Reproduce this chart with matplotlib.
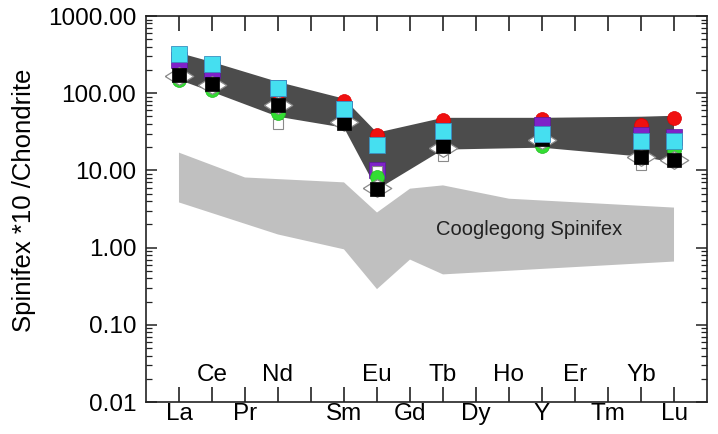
import numpy as np
import matplotlib.pyplot as plt
from matplotlib.ticker import LogLocator, NullFormatter, FixedLocator
import matplotlib.transforms as mtransforms

plt.rcParams['font.family'] = ['Liberation Sans', 'DejaVu Sans']

# REE order on the x axis ('' = Pm, not labelled)
elements = ['La', 'Ce', 'Pr', 'Nd', '', 'Sm', 'Eu', 'Gd', 'Tb', 'Dy',
            'Ho', 'Y', 'Er', 'Tm', 'Yb', 'Lu']
labels_above = ['Ce', 'Nd', 'Eu', 'Tb', 'Ho', 'Er', 'Yb']

# analysed elements and the sample values (Spinifex*10 / chondrite)
sample_el = ['La', 'Ce', 'Nd', 'Sm', 'Eu', 'Tb', 'Y', 'Yb', 'Lu']
red = [310, 230, 104, 80, 29, 45, 46.7, 39, 48]
purple = [270, 201, 117, 62, 10.2, 32.7, 39, 29, 27.3]
white_sq = [165, 125, 40, 42, 9.7, 15.5, 25, 11.9, 13.8]
green = [149, 111, 56, 48, 8.1, 25.8, 20.6, 16, 18.6]
diamond = [168, 128, 71, 42.7, 6.0, 19.7, 25, 15.1, 13.8]
black = [170, 130, 71, 41.5, 5.8, 20.6, 25.3, 15.1, 13.8]
cyan = [318, 236, 117, 62, 21.5, 32.7, 29.9, 24.3, 24.3]

# envelope of the samples
band_hi = [333, 254, 140, 85, 30.8, 48, 48, 49.6, 51]
band_lo = [149, 104, 49.6, 35.7, 5.65, 18.6, 19.7, 15.1, 12.6]

# Cooglegong spinifex field
coog_hi_el = ['La', 'Pr', 'Sm', 'Eu', 'Gd', 'Tb', 'Ho', 'Lu']
coog_hi = [17.0, 8.1, 7.0, 2.85, 5.8, 6.4, 4.3, 3.3]
coog_lo_el = ['La', 'Nd', 'Sm', 'Eu', 'Gd', 'Tb', 'Lu']
coog_lo = [3.85, 1.48, 0.95, 0.29, 0.70, 0.45, 0.66]

pos = {e: i + 1 for i, e in enumerate(elements)}
xs = np.array([pos[e] for e in sample_el])

fig = plt.figure(figsize=(7.18, 4.34), dpi=100)
ax = fig.add_axes([0.2033, 0.0737, 0.7814, 0.8894])
ax.set_yscale('log')
ax.set_xlim(0, 17)
ax.set_ylim(0.01, 1000)

# light grey field
cx = [pos[e] for e in coog_hi_el] + [pos[e] for e in coog_lo_el][::-1]
cy = coog_hi + coog_lo[::-1]
ax.fill(cx, cy, color='#c0c0c0', lw=0, zorder=1)
ax.text(11.6, 1.72, 'Cooglegong Spinifex', fontsize=14.5, ha='center',
        va='center', color='#222222', zorder=2)

# dark envelope
ax.fill(np.concatenate([xs, xs[::-1]]), band_hi + band_lo[::-1],
        color='#4c4c4c', lw=0, zorder=2)

wide_diamond = [(-1, 0), (0, 0.62), (1, 0), (0, -0.62), (-1, 0)]

ax.plot(xs, red, 'o', ms=10, mfc='#f01010', mec='#e00000', mew=0.5, ls='none', zorder=3)
ax.plot(xs, purple, 's', ms=11, mfc='#7f22c8', mec='#5a1a9a', mew=0.5, ls='none', zorder=4)
ax.plot(xs, white_sq, 's', ms=6.5, mfc='white', mec='#8a8a8a', mew=0.8, ls='none', zorder=5)
ax.plot(xs, green, 'o', ms=10, mfc='#33dd33', mec='#22bb22', mew=0.5, ls='none', zorder=6)
ax.plot(xs, diamond, marker=wide_diamond, ms=20.5, mfc='white', mec='#8a8a8a', mew=0.9,
        ls='none', zorder=7)
ax.plot(xs, black, 's', ms=10.5, mfc='black', mec='black', mew=0.5, ls='none', zorder=8)
ax.plot(xs, cyan, 's', ms=11, mfc='#45dff0', mec='#3a8fc0', mew=0.6, ls='none', zorder=9)

# axes styling
for s in ax.spines.values():
    s.set_linewidth(1.2)
    s.set_color('#222222')

ax.xaxis.set_major_locator(FixedLocator(range(1, 17)))
ax.set_xticklabels([e if (e and e not in labels_above) else '' for e in elements],
                   fontsize=17.5)
ax.tick_params(axis='x', which='major', direction='in', length=10.5, width=1.2,
               top=True, pad=1, colors='#222222')
ax.tick_params(axis='x', labelcolor='black')

trans = mtransforms.blended_transform_factory(ax.transData, ax.transAxes)
for e in labels_above:
    ax.text(pos[e], 0.055, e, transform=trans, fontsize=17.5, ha='center',
            va='baseline')

ax.set_yticks([0.01, 0.1, 1, 10, 100, 1000])
ax.set_yticklabels(['0.01', '0.10', '1.00', '10.00', '100.00', '1000.00'], fontsize=17.5)
ax.yaxis.set_minor_locator(LogLocator(base=10, subs=np.arange(2, 10), numticks=20))
ax.yaxis.set_minor_formatter(NullFormatter())
ax.tick_params(axis='y', which='major', direction='in', length=8, width=1.1,
               right=True, pad=7, colors='#222222')
ax.tick_params(axis='y', which='minor', direction='in', length=4.5, width=0.9,
               right=True, colors='#222222')
ax.tick_params(axis='y', labelcolor='black')

fig.text(24 / 718, 1 - 200 / 434, 'Spinifex *10 /Chondrite', rotation=90,
         fontsize=18.5, ha='center', va='center')

fig.savefig('out.png', dpi=100)
